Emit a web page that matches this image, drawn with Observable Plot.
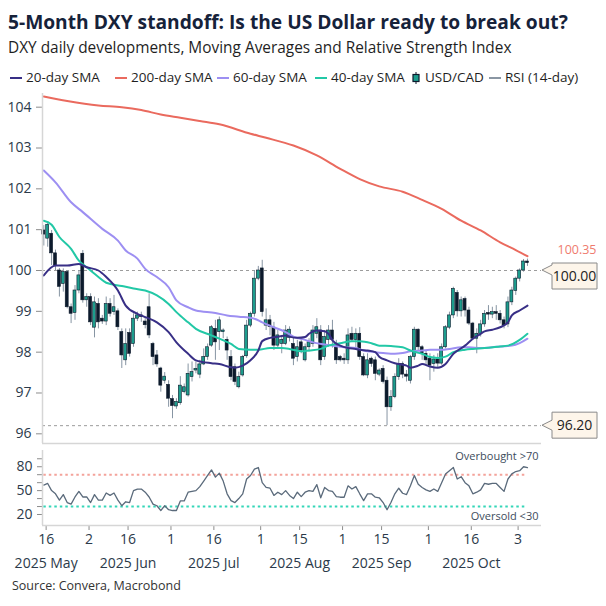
<!DOCTYPE html>
<html><head><meta charset="utf-8">
<script src="https://cdn.jsdelivr.net/npm/d3@7"></script>
<script src="https://cdn.jsdelivr.net/npm/@observablehq/plot@0.6"></script>
<style>
body{margin:0;background:#fff;font-family:"Open Sans",sans-serif;}
#wrap{position:relative;width:606px;height:606px;overflow:hidden;background:#fff;}
.abs{position:absolute;white-space:nowrap;}
#title{left:8px;top:11.7px;font-size:19px;line-height:19px;font-weight:700;color:#16223a;}
#subtitle{left:8px;top:39.7px;font-size:15px;line-height:15px;color:#1f1f1f;}
.leg{position:absolute;top:71px;font-size:13.5px;line-height:13.5px;color:#1f1f1f;display:flex;align-items:center;white-space:nowrap;}
.sw{display:inline-block;width:12px;height:2px;margin-right:4px;}
#source{left:12px;top:580px;font-size:12.5px;line-height:12.5px;color:#333;}
</style></head>
<body><div id="wrap">
<div id="title" class="abs">5-Month DXY standoff: Is the US Dollar ready to break out?</div>
<div id="subtitle" class="abs">DXY daily developments, Moving Averages and Relative Strength Index</div>
<div id="legend"></div>
<div id="main" class="abs" style="top:80px;left:0"></div>
<div id="rsi" class="abs" style="top:440px;left:0"></div>
<div id="source" class="abs">Source: Convera, Macrobond</div>
</div>
<script>
// ---------- data (trading-day index 0 = 16 May 2025) ----------
const open  = [100.98,100.78,100.90,100.42,100.00,99.67,99.96,99.10,98.96,99.51,100.41,99.27,99.35,98.60,99.18,98.82,98.75,99.18,98.98,99.00,98.49,97.80,98.47,98.20,98.82,98.90,98.75,99.10,98.20,97.92,97.60,97.30,97.20,96.85,96.67,96.75,97.02,96.94,97.39,97.55,97.45,97.70,97.88,98.16,98.57,98.49,98.49,98.30,97.88,97.63,97.14,97.43,97.90,98.65,98.94,99.80,100.05,98.65,98.78,98.60,98.16,98.20,98.20,98.35,98.20,97.88,98.24,97.80,98.12,98.20,98.45,98.53,97.88,98.30,98.53,98.16,97.88,97.84,97.80,98.45,98.30,98.45,97.88,97.43,97.84,97.80,97.45,97.59,97.30,96.65,96.90,97.39,97.71,97.45,97.30,97.88,98.55,98.12,97.96,97.84,97.71,97.82,97.72,98.12,98.60,98.90,99.45,99.00,99.30,99.02,98.70,98.33,98.45,98.68,98.96,98.92,98.98,98.94,98.78,98.68,99.22,99.50,99.80,100.00,100.22];
const high  = [101.10,101.20,100.98,100.50,100.05,100.04,100.00,99.18,99.63,100.00,100.49,99.43,99.43,99.35,99.31,98.90,99.35,99.31,99.39,99.06,98.57,98.57,98.57,98.94,98.98,98.98,98.86,99.43,98.24,98.04,97.63,97.50,97.30,96.94,96.86,97.40,97.22,97.71,97.76,97.76,97.80,98.08,98.20,98.65,98.78,98.86,98.57,98.37,98.04,97.71,97.51,97.92,98.78,98.98,100.00,100.10,100.25,99.06,98.90,98.73,98.53,98.41,98.65,98.62,98.37,98.29,98.33,98.20,98.33,98.65,98.82,98.65,98.53,98.65,98.78,98.29,97.92,97.96,98.57,98.61,98.57,98.60,97.96,97.96,97.88,97.88,97.59,97.67,97.39,97.06,97.47,97.84,97.76,97.55,97.92,98.61,98.57,98.16,98.04,97.96,97.92,97.96,98.20,98.65,98.98,99.59,99.51,99.35,99.35,99.10,98.73,98.57,98.78,99.02,99.14,99.10,99.14,99.02,98.86,99.35,99.59,99.84,100.04,100.27,100.28];
const low   = [100.60,100.57,100.12,100.00,99.35,99.47,99.06,98.70,98.78,99.43,99.20,99.10,98.65,98.35,98.57,98.68,98.65,98.86,98.90,98.53,97.60,97.67,97.88,98.12,98.75,98.73,98.57,98.33,97.67,97.63,97.02,97.22,96.65,96.37,96.60,96.70,96.98,96.90,97.27,97.47,97.35,97.67,97.80,98.12,97.80,98.04,98.33,97.80,97.30,97.18,97.10,97.39,97.85,98.60,98.86,99.75,98.86,98.53,98.40,98.04,98.08,97.96,98.16,98.25,97.67,97.76,97.96,97.76,98.00,98.12,98.33,97.67,97.80,98.12,98.10,97.70,97.76,97.70,97.70,98.25,98.10,97.80,97.40,97.35,97.63,97.30,97.40,97.22,96.20,96.55,96.86,97.31,97.35,97.27,97.22,97.80,98.04,97.80,97.67,97.30,97.51,97.60,97.68,98.08,98.55,98.82,98.86,98.86,98.86,98.65,98.29,97.96,98.37,98.61,98.78,98.82,98.78,98.69,98.57,98.60,99.14,99.39,99.72,99.96,100.10];
const close = [100.88,101.12,100.42,100.12,99.60,99.96,99.10,98.94,99.51,99.88,99.27,99.35,98.73,99.22,98.73,98.75,99.18,98.94,99.10,98.61,97.92,98.20,97.96,98.82,98.90,98.86,98.66,98.41,97.88,97.70,97.18,97.40,96.86,96.68,96.78,97.18,97.14,97.47,97.51,97.59,97.70,97.88,98.12,98.61,98.24,98.78,98.53,98.04,97.39,97.27,97.39,97.88,98.65,98.94,99.80,100.00,98.98,98.78,98.62,98.16,98.41,98.30,98.53,98.55,97.84,98.12,98.04,98.12,98.24,98.53,98.61,97.80,98.37,98.53,98.30,97.80,97.80,97.80,98.41,98.30,98.45,97.88,97.43,97.80,97.71,97.47,97.55,97.27,96.65,96.90,97.39,97.71,97.45,97.40,97.88,98.55,98.12,97.96,97.80,97.67,97.82,97.72,98.12,98.61,98.90,99.55,99.00,99.27,99.02,98.70,98.33,98.45,98.68,98.94,98.92,98.98,98.94,98.78,98.65,99.22,99.51,99.80,100.00,100.22,100.18];

const sma20X = [0,3,6,9,11,14,16,19,21,24,26,29,32,34,37,39,43,45,48,49,51,53,55,56,58,60,62,63,65,67,68,70,72,73,74,76,78,80,81,83,85,86,88,90,92,93,94,96,97,99,101,103,105,108,110,112,113,115,117,119,120,122,124];
const sma20  = [99.88,100.12,100.12,100.16,100.08,100.00,99.84,99.51,99.14,98.94,98.86,98.73,98.49,98.24,97.96,97.80,97.73,97.71,97.63,97.62,97.67,97.80,98.04,98.27,98.35,98.38,98.41,98.38,98.35,98.37,98.45,98.53,98.51,98.45,98.29,98.16,98.10,98.08,98.06,98.04,98.00,97.89,97.80,97.73,97.69,97.67,97.62,97.67,97.71,97.65,97.62,97.71,97.96,98.16,98.33,98.45,98.51,98.55,98.61,98.73,98.90,99.02,99.14];
const sma40X = [0,2,4,7,9,11,14,16,20,23,26,29,32,34,37,39,43,45,48,50,53,55,58,61,63,66,68,71,73,76,79,81,84,86,89,92,94,97,99,101,103,105,108,110,113,117,119,122,124];
const sma40  = [101.22,101.12,100.82,100.53,100.24,100.08,99.84,99.70,99.62,99.56,99.51,99.39,99.18,98.98,98.73,98.57,98.41,98.33,98.20,98.08,98.06,98.06,98.10,98.10,98.08,98.02,98.04,98.08,98.16,98.22,98.27,98.27,98.22,98.16,98.15,98.12,98.04,97.96,97.88,97.86,97.89,98.00,98.06,98.08,98.10,98.14,98.16,98.30,98.45];
const sma60X = [0,3,7,10,15,19,21,24,26,29,32,34,37,39,44,47,50,54,56,59,62,64,67,69,72,74,77,80,82,85,87,90,92,94,97,99,102,104,107,109,112,115,117,120,122,124];
const sma60  = [102.45,102.16,101.67,101.43,101.02,100.73,100.49,100.29,100.04,99.84,99.59,99.27,99.10,99.02,98.96,98.90,98.87,98.82,98.73,98.61,98.49,98.38,98.30,98.24,98.19,98.16,98.12,98.10,98.04,98.00,97.98,97.96,97.98,98.02,98.04,98.06,98.06,98.08,98.12,98.12,98.10,98.12,98.14,98.16,98.22,98.33];
const sma200X = [0,6,14,20,25,30,35,40,45,53,57,64,70,76,81,86,92,97,102,107,112,117,121,124];
const sma200  = [104.26,104.15,104.04,104.00,103.93,103.82,103.74,103.66,103.58,103.35,103.25,103.06,102.82,102.49,102.24,102.06,101.93,101.73,101.51,101.22,100.98,100.69,100.50,100.35];

const rsi = [57,59,50,46,38,45,35,33,42,49,42,42,35,45,38,38,47,44,47,38,31,36,35,50,52,52,48,42,33,31,25,31,26,25,25,37,37,48,49,50,55,62,69,76,67,72,62,46,37.5,35,40,46,64.6,69,77,79,60,54,53,44,48,45,50,44,40,48,42.5,48,50,49,57.5,41,54,50,49,42.5,41.7,41.7,56,52,55,46,37.5,46,46,41.7,41,35,26,35,46,53,46.7,45,56,69,58,54,51,49,52,49,60,71,75,79,64.6,67.5,60,56,46,48,51,59,58,59,59,54,49,64.6,71,74,75,80,79];

const yTicks = [96,97,98,99,100,101,102,103,104];
const refLevels = [100, 96.2];
const refLabels = ["100.00", "96.20"];
const lastSMA200Label = "100.35";
const tickIdx = [0,11,21,32,43,55,65,76,86,98,109,121];
const tickLabels = ["16","2","16","1","16","1","15","1","15","1","16","3"];
const monthIdx = [0,21,43,65,86,109];
const monthLabels = ["2025 May","2025 Jun","2025 Jul","2025 Aug","2025 Sep","2025 Oct"];
const rsiTicks = [20,30,40,50,60,70,80,90];
const rsiLabeled = [20,50,80];

// ---------- styling ----------
const C = {sma20:"#382f86", sma200:"#ea6a5e", sma60:"#9d8ff2", sma40:"#22c8a6",
  up:"#1d9d8d", down:"#0c1a2c", wick:"#8795a3", rsi:"#5a6a7b", text:"#2b3a4a"};
const X0 = -0.333, X1 = 127.6;
const FONT = "Open Sans, sans-serif";

// legend
const legendItems = [
  {label:"20-day SMA", color:C.sma20, left:10},
  {label:"200-day SMA", color:C.sma200, left:115},
  {label:"60-day SMA", color:C.sma60, left:217},
  {label:"40-day SMA", color:C.sma40, left:315},
  {label:"USD/CAD", color:null, left:411},
  {label:"RSI (14-day)", color:"#8a96a3", left:489}
];
const leg = document.getElementById("legend");
legendItems.forEach(it => {
  const d = document.createElement("div");
  d.className = "leg"; d.style.left = it.left + "px";
  if (it.color) {
    d.innerHTML = `<span class="sw" style="background:${it.color}"></span>${it.label}`;
  } else {
    d.innerHTML = `<svg width="10" height="12" style="margin-right:4px"><line x1="5" x2="5" y1="0" y2="12" stroke="#0c1a2c" stroke-width="1"/><rect x="2" y="2.5" width="6" height="7" fill="${C.up}" stroke="#0c1a2c" stroke-width="1.2"/></svg>${it.label}`;
  }
  leg.appendChild(d);
});

const candles = open.map((o, i) => ({i, open:o, high:high[i], low:low[i], close:close[i]}));
const ups = candles.filter(d => d.close >= d.open);
const downs = candles.filter(d => d.close < d.open);

const Y0 = 95.763, Y1 = 104.335;
const main = Plot.plot({
  width: 606, height: 365, marginTop: 13, marginBottom: 2, marginLeft: 42, marginRight: 65,
  x: {domain: [X0, X1], axis: null},
  y: {domain: [Y0, Y1], axis: null},
  style: {fontFamily: FONT, background: "transparent", overflow: "visible"},
  marks: [
    Plot.ruleY(refLevels, {stroke: "#9c9c9c", strokeDasharray: "3,3", strokeWidth: 1}),
    Plot.ruleX(candles, {x: "i", y1: "low", y2: "high", stroke: C.wick, strokeWidth: 1}),
    Plot.rect(ups, {x1: d => d.i - 0.38, x2: d => d.i + 0.38, y1: "open", y2: "close", fill: C.up, stroke: C.down, strokeWidth: 0.6}),
    Plot.rect(downs, {x1: d => d.i - 0.38, x2: d => d.i + 0.38, y1: "open", y2: "close", fill: C.down, stroke: C.down, strokeWidth: 0.6}),
    Plot.line(sma60X, {x: d => d, y: (d, i) => sma60[i], stroke: C.sma60, strokeWidth: 2, curve: "monotone-x"}),
    Plot.line(sma40X, {x: d => d, y: (d, i) => sma40[i], stroke: C.sma40, strokeWidth: 2, curve: "monotone-x"}),
    Plot.line(sma20X, {x: d => d, y: (d, i) => sma20[i], stroke: C.sma20, strokeWidth: 2, curve: "monotone-x"}),
    Plot.line(sma200X, {x: d => d, y: (d, i) => sma200[i], stroke: C.sma200, strokeWidth: 2, curve: "monotone-x"}),
    Plot.text([lastSMA200Label], {x: X1, y: sma200[sma200.length - 1], dx: 16, dy: -6, text: d => d, textAnchor: "start", fill: "#ef7b6e", fontSize: 12.5}),
    Plot.axisY({ticks: yTicks, tickSize: 6, tickPadding: 5, fontSize: 14, stroke: "#8c8c8c", fill: C.text}),
    Plot.ruleX([X0], {stroke: "#d6d6d6", strokeWidth: 1.5}),
    Plot.ruleY([Y0], {stroke: "#d6d6d6", strokeWidth: 1.5})
  ]
});
document.getElementById("main").appendChild(main);

// callout boxes drawn with the plot's own scales
{
  const sx = main.scale("x"), sy = main.scale("y");
  const svg = d3.select(main);
  const tipX = sx.apply(X1) + 1;
  const bx0 = tipX + 10, bx1 = tipX + 55, h = 26;
  refLevels.forEach((v, k) => {
    const ty = sy.apply(v);
    const cy = k === 0 ? ty + 6 : ty;
    const top = cy - h / 2, bot = cy + h / 2;
    const p = `M${tipX},${ty} L${bx0},${ty - 5} L${bx0},${top} L${bx1},${top} L${bx1},${bot} L${bx0},${bot} L${bx0},${ty + 5} Z`;
    svg.append("path").attr("d", p).attr("fill", "#fdf5ea").attr("stroke", "#8a8a8a").attr("stroke-width", 1);
    svg.append("text").attr("x", (bx0 + bx1) / 2).attr("y", cy).attr("dy", "0.35em")
      .attr("text-anchor", "middle").attr("font-size", 14).attr("fill", "#222").attr("font-family", FONT)
      .text(refLabels[k]);
  });
}

const rsiPlot = Plot.plot({
  width: 606, height: 166, marginTop: 10, marginBottom: 81, marginLeft: 42, marginRight: 65,
  x: {domain: [X0, X1], axis: null},
  y: {domain: [6.18, 100.4], axis: null},
  style: {fontFamily: FONT, background: "transparent", overflow: "visible"},
  marks: [
    Plot.ruleY([70], {x1: 0, x2: 124, stroke: "#f4a39b", strokeDasharray: "2.5,3", strokeWidth: 2}),
    Plot.ruleY([30], {x1: 0, x2: 124, stroke: "#35d6b8", strokeDasharray: "2.5,3", strokeWidth: 2}),
    Plot.line(rsi, {x: (d, i) => i, y: d => d, stroke: C.rsi, strokeWidth: 1.3}),
    Plot.text(["Overbought >70"], {frameAnchor: "top-right", dx: -3, dy: 6, text: d => d, textAnchor: "end", lineAnchor: "middle", fontSize: 11, fill: "#3d4c5c"}),
    Plot.text(["Oversold <30"], {frameAnchor: "bottom-right", dx: -3, dy: -9, text: d => d, textAnchor: "end", lineAnchor: "middle", fontSize: 11, fill: "#3d4c5c"}),
    Plot.axisY({ticks: rsiTicks, tickSize: 5, tickPadding: 5, fontSize: 14, stroke: "#8c8c8c", fill: C.text,
      tickFormat: d => rsiLabeled.includes(d) ? String(d) : ""}),
    Plot.axisX({ticks: tickIdx.map(d => d + 0.6), tickSize: 5, tickPadding: 4, fontSize: 14, stroke: "#8c8c8c", fill: C.text,
      tickFormat: d => tickLabels[tickIdx.indexOf(Math.round(d - 0.6))]}),
    Plot.text(monthIdx, {x: d => d + 0.6, frameAnchor: "bottom", dy: 38, text: (d, i) => monthLabels[i], fontSize: 14, fill: C.text, lineAnchor: "middle"}),
    Plot.ruleX([X0], {stroke: "#d6d6d6", strokeWidth: 1.5}),
    Plot.ruleY([6.18], {stroke: "#d6d6d6", strokeWidth: 1.5})
  ]
});
document.getElementById("rsi").appendChild(rsiPlot);

// fit header text widths to the reference
function fit(id, w) {
  const el = document.getElementById(id);
  const r = el.getBoundingClientRect().width;
  const fs = parseFloat(getComputedStyle(el).fontSize);
  el.style.fontSize = (fs * w / r) + "px";
}
fit("title", 560);
fit("subtitle", 504);
</script>
</body></html>
